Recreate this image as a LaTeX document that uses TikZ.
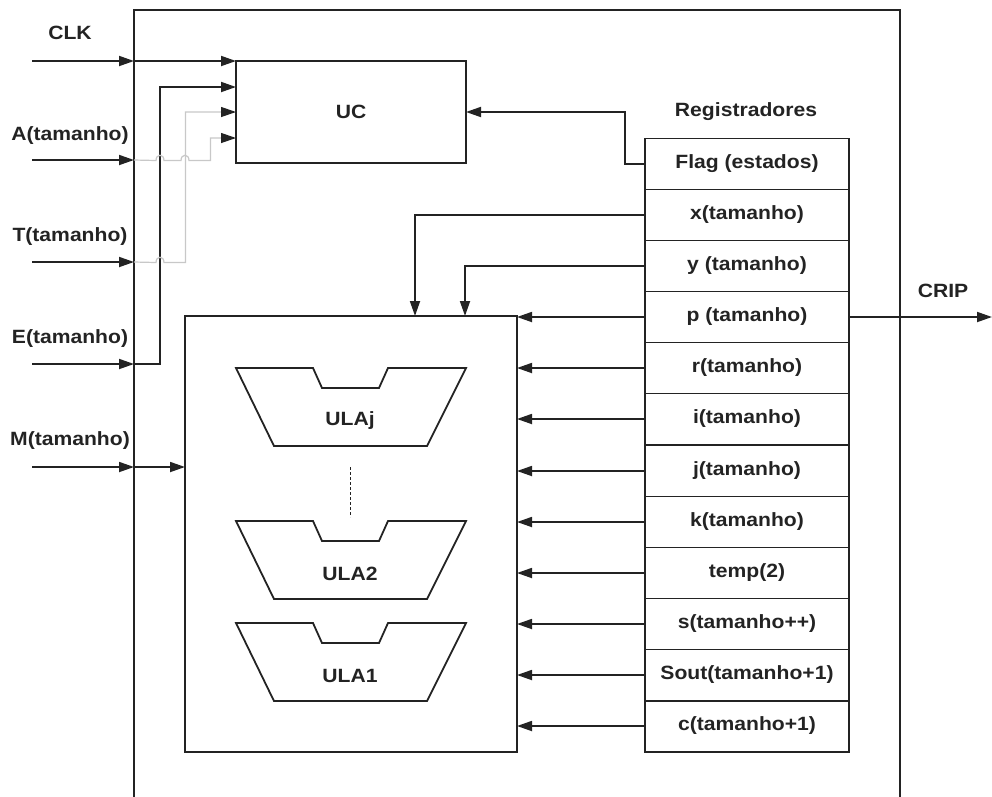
\documentclass[tikz,border=0pt]{standalone}
\usepackage{fontspec}
\setmainfont[FakeStretch=1.1]{Liberation Sans}
\usetikzlibrary{arrows.meta}
\definecolor{wire}{RGB}{200,200,200}
\definecolor{ink}{RGB}{35,35,35}
\begin{document}
\begin{tikzpicture}[x=1pt,y=-1pt,line width=1.8pt,draw=ink,
  arr/.style={-{Triangle[length=15pt,width=10pt,color=ink]}},
  gwire/.style={draw=wire,line width=1.2pt},
  blockbox/.style={draw,inner sep=0pt,outer sep=0pt},
  lbl/.style={font=\fontsize{19.2}{23}\bfseries\selectfont,inner sep=0pt,text=ink},
  regbox/.style={draw,minimum width=204pt,minimum height=51.17pt,inner sep=0pt,outer sep=0pt,
    font=\fontsize{19.2}{23}\bfseries\selectfont,text=ink},
  ulashape/.style={draw,line width=1.8pt,line join=miter}]
\useasboundingbox (0,0) rectangle (992,796);
% outer box (open at the bottom)
\draw (134,800) -- (134,10) -- (900,10) -- (900,800);
% UC and ALU blocks
\node[blockbox,minimum width=230pt,minimum height=102pt] (uc) at (351,112) {};
\node[lbl] (uclbl) at (351,112) {UC};
\node[blockbox,minimum width=332pt,minimum height=436pt] (alu) at (351,534) {};
% registers
\node[lbl] (reglbl) at (746,112) {Registradores};
\node[regbox] (rflag) at (747,164) {Flag (estados)};
\node[regbox] (rx) at (747,215) {x(tamanho)};
\node[regbox] (ry) at (747,266) {y (tamanho)};
\node[regbox] (rp) at (747,317) {p (tamanho)};
\node[regbox] (rr) at (747,368) {r(tamanho)};
\node[regbox] (ri) at (747,419) {i(tamanho)};
\node[regbox] (rj) at (747,471) {j(tamanho)};
\node[regbox] (rk) at (747,522) {k(tamanho)};
\node[regbox] (rtemp) at (747,573) {temp(2)};
\node[regbox] (rs) at (747,624) {s(tamanho++)};
\node[regbox] (rsout) at (747,675) {Sout(tamanho+1)};
\node[regbox] (rc) at (747,726) {c(tamanho+1)};
% input labels and ports
\node[lbl] (lclk) at (70,33) {CLK};
\node[lbl] (la) at (70,136) {A(tamanho)};
\node[lbl] (lt) at (70,237) {T(tamanho)};
\node[lbl] (le) at (70,339) {E(tamanho)};
\node[lbl] (lm) at (70,441) {M(tamanho)};
\foreach \n/\y in {clk/61,a/160,t/262,e/364,m/467}{
  \coordinate (s\n) at (32,\y);
  \coordinate (p\n) at (134,\y);
  \draw[arr] (s\n) -- (p\n);
}
% CLK to UC
\draw[arr] (pclk) -- (uc.north west);
% E to UC
\draw[arr] (pe) -- (160,364) -- (160,87) -- (236,87);
% T to UC (grey, with a hop over E)
\draw[gwire] (pt) -- (156,262.5) .. controls (156,255.5) and (164,255.5) .. (164,262.5) -- (185.5,262.5) -- (185.5,112) -- (226,112);
\draw[arr,draw=wire,line width=1.2pt] (226,112) -- (236,112);
% A to UC (grey, with hops over E and T)
\draw[gwire] (pa) -- (156,160.5) .. controls (156,153.5) and (164,153.5) .. (164,160.5) -- (181,160.5) .. controls (181,153.5) and (189,153.5) .. (189,160.5) -- (210.5,160.5) -- (210.5,138) -- (226,138);
\draw[arr,draw=wire,line width=1.2pt] (226,138) -- (236,138);
% M to ALU
\draw[arr] (pm) -- (alu.west |- pm);
% Flag to UC
\draw[arr] (rflag.west) -- (625,164) |- (uc.east);
% x and y to ALU top
\draw[arr] (rx.west) -| (415,316);
\draw[arr] (ry.west) -| (465,316);
% registers to ALU right side
\foreach \r in {rp,rr,ri,rj,rk,rtemp,rs,rsout,rc}{
  \draw[arr] (\r.west) -- (alu.east |- \r.west);
}
% CRIP output
\coordinate (crip) at (992,317);
\draw[arr] (rp.east) -- (crip);
\node[lbl] (criplbl) at (943,291) {CRIP};
% ULAs
\foreach \n/\t/\txt in {j/368/ULAj,two/521/ULA2,one/623/ULA1}{
  \draw[ulashape] (236,\t) -- (313,\t) -- (322,\t+20) -- (379,\t+20) -- (388,\t) -- (466,\t) -- (427,\t+78) -- (274,\t+78) -- cycle;
  \node[lbl] (ula\n) at (350,\t+53) {\txt};
}
% dotted separator
\draw[line width=1.2pt,dash pattern=on 3pt off 2pt] (350.5,467) -- (350.5,517);
\end{tikzpicture}
\end{document}
